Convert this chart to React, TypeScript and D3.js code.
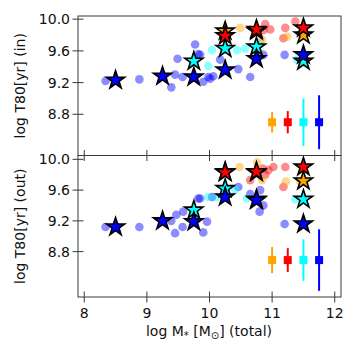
import React, { useRef, useEffect } from "react";
import * as d3 from "d3";

// stellar mass bins where the stacked stars sit
const starMass = [8.5, 9.25, 9.75, 10.25, 10.75, 11.5];

// log T80 (in) for the stacked stars, null = no star
const inBlue = [9.23, 9.28, 9.27, 9.36, 9.5, 9.55];
const inCyan = [null, null, 9.47, 9.63, 9.65, 9.47];
const inRed = [null, null, null, 9.79, 9.87, 9.89];
const inOrange = [null, null, null, 9.85, 9.85, 9.8];

// log T80 (out)
const outBlue = [9.12, 9.2, 9.19, 9.51, 9.47, 9.16];
const outCyan = [null, null, 9.34, 9.62, 9.48, 9.48];
const outRed = [null, null, null, 9.83, 9.84, 9.9];
const outOrange = [null, null, null, 9.84, 9.83, 9.72];

// individual galaxies [logM, logT80]
const inBlueGal = [[8.34, 9.22], [8.88, 9.24], [9.39, 9.14], [9.45, 9.3], [9.49, 9.5], [9.57, 9.27], [9.77, 9.68], [9.82, 9.56], [9.85, 9.55], [9.9, 9.21], [9.98, 9.27], [10.01, 9.25], [10.06, 9.28], [10.17, 9.49], [10.46, 9.37], [10.65, 9.27], [10.86, 9.55], [11.2, 9.55]];
const inCyanGal = [[9.98, 9.41], [10.04, 9.61], [10.44, 9.61], [10.57, 9.63], [10.81, 9.7], [11.4, 9.49]];
const inRedGal = [[10.86, 9.86], [10.89, 9.94], [10.97, 9.87], [11.21, 9.89], [11.37, 9.97], [11.18, 9.76]];
const inOrangeGal = [[10.49, 9.89], [10.84, 9.74], [11.24, 9.78], [11.45, 9.82]];

const outBlueGal = [[8.34, 9.12], [8.88, 9.12], [9.39, 9.2], [9.47, 9.28], [9.45, 9.04], [9.57, 9.12], [9.58, 9.32], [9.82, 9.49], [9.85, 9.49], [9.9, 9.05], [9.96, 9.19], [10.04, 9.51], [10.46, 9.64], [10.65, 9.55], [10.81, 9.6], [10.86, 9.4], [10.8, 9.32], [11.2, 9.16]];
const outCyanGal = [[9.98, 9.51], [10.12, 9.51], [10.41, 9.61], [10.6, 9.49], [11.37, 9.48]];
const outRedGal = [[10.65, 9.73], [10.85, 9.88], [10.94, 9.86], [11.02, 9.9], [10.89, 9.8], [11.21, 9.9], [11.18, 9.64]];
const outOrangeGal = [[10.48, 9.9], [10.76, 9.96], [10.84, 9.73], [11.22, 9.71], [11.45, 9.71]];

// typical error bars (orange, red, cyan, blue)
const errX = [11.0, 11.25, 11.5, 11.75];
const inErrY = [8.7, 8.7, 8.7, 8.7];
const inErr = [0.13, 0.14, 0.3, 0.34];
const outErrY = [8.69, 8.69, 8.69, 8.69];
const outErr = [0.17, 0.155, 0.27, 0.4];

const xTicks = [8, 9, 10, 11, 12];
const yTicks = [8.8, 9.2, 9.6, 10.0];

const colors = { blue: "#0000ff", cyan: "#00ffff", red: "#ff0000", orange: "#ffa500" };

export default function App() {
  const ref = useRef(null);

  useEffect(() => {
    const svg = d3.select(ref.current);
    svg.selectAll("*").remove();

    const left = 78, right = 341;
    const x = d3.scaleLinear().domain([7.9, 12.1]).range([left, right]);
    const font = "DejaVu Sans, sans-serif";
    const axisColor = "#3a3a3a";

    const panels = [
      {
        top: 16, bottom: 155.5, domain: [8.28, 10.04], label: "log T80[yr] (in)",
        gal: [[inBlueGal, colors.blue], [inCyanGal, colors.cyan], [inRedGal, colors.red], [inOrangeGal, colors.orange]],
        stars: [[inOrange, colors.orange], [inRed, colors.red], [inCyan, colors.cyan], [inBlue, colors.blue]],
        errY: inErrY, err: inErr,
      },
      {
        top: 155.5, bottom: 297, domain: [8.21, 10.05], label: "log T80[yr] (out)",
        gal: [[outBlueGal, colors.blue], [outCyanGal, colors.cyan], [outRedGal, colors.red], [outOrangeGal, colors.orange]],
        stars: [[outOrange, colors.orange], [outRed, colors.red], [outCyan, colors.cyan], [outBlue, colors.blue]],
        errY: outErrY, err: outErr,
      },
    ];

    const star = d3.symbol().type(d3.symbolStar).size(102);
    const errColors = [colors.orange, colors.red, colors.cyan, colors.blue];

    panels.forEach((p) => {
      const y = d3.scaleLinear().domain(p.domain).range([p.bottom, p.top]);
      const g = svg.append("g");

      // galaxies as faint dots
      p.gal.forEach(([pts, c]) => {
        g.selectAll(null)
          .data(pts)
          .join("circle")
          .attr("cx", (d) => x(d[0]))
          .attr("cy", (d) => y(d[1]))
          .attr("r", 4.3)
          .attr("fill", c)
          .attr("fill-opacity", 0.45);
      });

      // error bars
      errX.forEach((ex, i) => {
        g.append("line")
          .attr("x1", x(ex)).attr("x2", x(ex))
          .attr("y1", y(p.errY[i] - p.err[i])).attr("y2", y(p.errY[i] + p.err[i]))
          .attr("stroke", errColors[i]).attr("stroke-width", 2);
        g.append("rect")
          .attr("x", x(ex) - 4).attr("y", y(p.errY[i]) - 4)
          .attr("width", 8).attr("height", 8)
          .attr("fill", errColors[i]);
      });

      // stacked stars
      p.stars.forEach(([vals, c]) => {
        const pts = starMass.map((m, i) => [m, vals[i]]).filter((d) => d[1] != null);
        g.selectAll(null)
          .data(pts)
          .join("path")
          .attr("d", star)
          .attr("transform", (d) => `translate(${x(d[0])},${y(d[1])})`)
          .attr("fill", c)
          .attr("stroke", "#000")
          .attr("stroke-width", 1.6)
          .attr("stroke-linejoin", "miter");
      });

      // frame
      g.append("rect")
        .attr("x", left).attr("y", p.top)
        .attr("width", right - left).attr("height", p.bottom - p.top)
        .attr("fill", "none").attr("stroke", axisColor).attr("stroke-width", 1);

      // y ticks
      yTicks.forEach((t) => {
        g.append("line")
          .attr("x1", left - 5.5).attr("x2", left + 5.5)
          .attr("y1", y(t)).attr("y2", y(t))
          .attr("stroke", axisColor);
        g.append("text")
          .attr("x", left - 8).attr("y", y(t))
          .attr("dy", "0.36em")
          .attr("text-anchor", "end")
          .attr("font-family", font).attr("font-size", 14)
          .attr("fill", "#111")
          .text(t.toFixed(1));
      });

      // x ticks
      xTicks.forEach((t) => {
        g.append("line")
          .attr("x1", x(t)).attr("x2", x(t))
          .attr("y1", p.bottom - 5.5).attr("y2", p.bottom + 5.5)
          .attr("stroke", axisColor);
      });

      // y label
      g.append("text")
        .attr("transform", `translate(20,${(p.top + p.bottom) / 2}) rotate(-90)`)
        .attr("dy", "0.36em")
        .attr("text-anchor", "middle")
        .attr("font-family", font).attr("font-size", 14)
        .attr("fill", "#111")
        .text(p.label);
    });

    // x tick labels on the bottom panel
    xTicks.forEach((t) => {
      svg.append("text")
        .attr("x", x(t)).attr("y", 318)
        .attr("text-anchor", "middle")
        .attr("font-family", font).attr("font-size", 14)
        .attr("fill", "#111")
        .text(t);
    });

    // x label: log M_*[M_sun] (total)
    const xl = svg.append("text")
      .attr("x", 209).attr("y", 336)
      .attr("text-anchor", "middle")
      .attr("font-family", font).attr("font-size", 14)
      .attr("fill", "#111");
    xl.append("tspan").text("log M");
    xl.append("tspan").attr("font-size", 10).attr("dy", 3).text("*");
    xl.append("tspan").attr("dy", -3).text(" [M");
    xl.append("tspan").attr("font-size", 10).attr("dy", 3).text("⊙");
    xl.append("tspan").attr("dy", -3).text("] (total)");
  }, []);

  return (
    <svg
      ref={ref}
      width={357}
      height={357}
      style={{ display: "block", position: "absolute", left: 0, top: 0, background: "#fff" }}
    />
  );
}
